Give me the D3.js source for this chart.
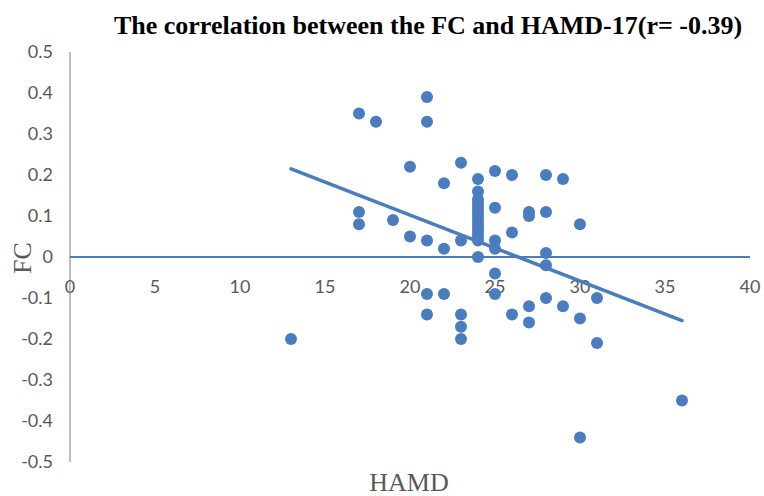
<!DOCTYPE html>
<html>
<head>
<meta charset="utf-8">
<script src="https://cdn.jsdelivr.net/npm/d3@7"></script>
<style>
  body { margin: 0; background: #fff; }
  svg { display: block; }
</style>
</head>
<body>
<div id="chart"></div>
<script>
// HAMD-17 score for each subject and its FC value
var hamd = [17, 18, 21, 21, 20, 23, 25, 26, 28, 29, 22,
            24, 24, 24, 24, 24, 24, 24, 24, 24, 24, 24, 24, 24, 24,
            25, 27, 27, 28, 30, 17, 17, 19, 26, 20, 21, 23, 25, 22, 25,
            28, 28, 25, 21, 22, 25, 28, 31, 27, 29, 21, 23, 26, 30, 27,
            23, 13, 23, 31, 36, 30];
var fc = [0.35, 0.33, 0.39, 0.33, 0.22, 0.23, 0.21, 0.20, 0.20, 0.19, 0.18,
          0.19, 0.16, 0.14, 0.13, 0.12, 0.11, 0.10, 0.09, 0.08, 0.07, 0.06, 0.05, 0.04, 0.00,
          0.12, 0.11, 0.10, 0.11, 0.08, 0.11, 0.08, 0.09, 0.06, 0.05, 0.04, 0.04, 0.04, 0.02, 0.02,
          0.01, -0.02, -0.04, -0.09, -0.09, -0.09, -0.10, -0.10, -0.12, -0.12, -0.14, -0.14, -0.14, -0.15, -0.16,
          -0.17, -0.20, -0.20, -0.21, -0.35, -0.44];

// linear trend line, start and end
var trendX = [13, 36];
var trendY = [0.215, -0.155];

var xTicks = [0, 5, 10, 15, 20, 25, 30, 35, 40];
var yTicks = [0.5, 0.4, 0.3, 0.2, 0.1, 0, -0.1, -0.2, -0.3, -0.4, -0.5];

var title = 'The correlation between the FC and HAMD-17(r= -0.39)';

var width = 764, height = 496;
var blue = '#4a7cc0';

var svg = d3.select('#chart').append('svg')
            .attr('width', width)
            .attr('height', height);

var x = d3.scaleLinear().domain([0, 40]).range([70, 750]);
var y = d3.scaleLinear().domain([-0.5, 0.5]).range([462, 52]);

// vertical axis (grey line at x = 0)
svg.append('line')
   .attr('x1', x(0)).attr('x2', x(0))
   .attr('y1', y(0.5)).attr('y2', y(-0.5))
   .attr('stroke', '#bfbfbf')
   .attr('stroke-width', 2);

// y tick labels, plain hyphen for negatives like the original
svg.append('g').selectAll('text').data(yTicks).enter()
   .append('text')
   .attr('x', 53)
   .attr('y', function(d) { return y(d); })
   .attr('dy', '0.35em')
   .attr('text-anchor', 'end')
   .attr('font-family', 'Lato, "Open Sans", sans-serif')
   .attr('font-size', 18)
   .attr('fill', '#595959')
   .text(function(d) { return d === 0 ? '0' : (d < 0 ? '-' : '') + Math.abs(d).toFixed(1); });

// horizontal axis (blue line at y = 0)
svg.append('line')
   .attr('x1', x(0)).attr('x2', x(40))
   .attr('y1', y(0)).attr('y2', y(0))
   .attr('stroke', blue)
   .attr('stroke-width', 2);

// x tick labels sit below the zero line
svg.append('g').selectAll('text').data(xTicks).enter()
   .append('text')
   .attr('x', function(d) { return x(d); })
   .attr('y', y(0) + 30)
   .attr('dy', '0.35em')
   .attr('text-anchor', 'middle')
   .attr('font-family', 'Lato, "Open Sans", sans-serif')
   .attr('font-size', 18)
   .attr('fill', '#595959')
   .text(function(d) { return d; });

// trend line
svg.append('line')
   .attr('x1', x(trendX[0])).attr('y1', y(trendY[0]))
   .attr('x2', x(trendX[1])).attr('y2', y(trendY[1]))
   .attr('stroke', blue)
   .attr('stroke-width', 3.5)
   .attr('stroke-linecap', 'round');

// points
svg.append('g').selectAll('circle').data(hamd).enter()
   .append('circle')
   .attr('cx', function(d) { return x(d); })
   .attr('cy', function(d, i) { return y(fc[i]); })
   .attr('r', 6)
   .attr('fill', blue);

// title
svg.append('text')
   .attr('x', 428)
   .attr('y', 34)
   .attr('text-anchor', 'middle')
   .attr('font-family', '"Liberation Serif", "Times New Roman", serif')
   .attr('font-weight', 'bold')
   .attr('font-size', 26)
   .attr('fill', '#000')
   .text(title);

// axis titles
svg.append('text')
   .attr('transform', 'translate(31,258) rotate(-90)')
   .attr('text-anchor', 'middle')
   .attr('font-family', '"Liberation Serif", "Times New Roman", serif')
   .attr('font-size', 26)
   .attr('fill', '#595959')
   .text('FC');

svg.append('text')
   .attr('x', 409)
   .attr('y', 491)
   .attr('text-anchor', 'middle')
   .attr('font-family', '"Liberation Serif", "Times New Roman", serif')
   .attr('font-size', 26)
   .attr('fill', '#595959')
   .text('HAMD');
</script>
</body>
</html>
